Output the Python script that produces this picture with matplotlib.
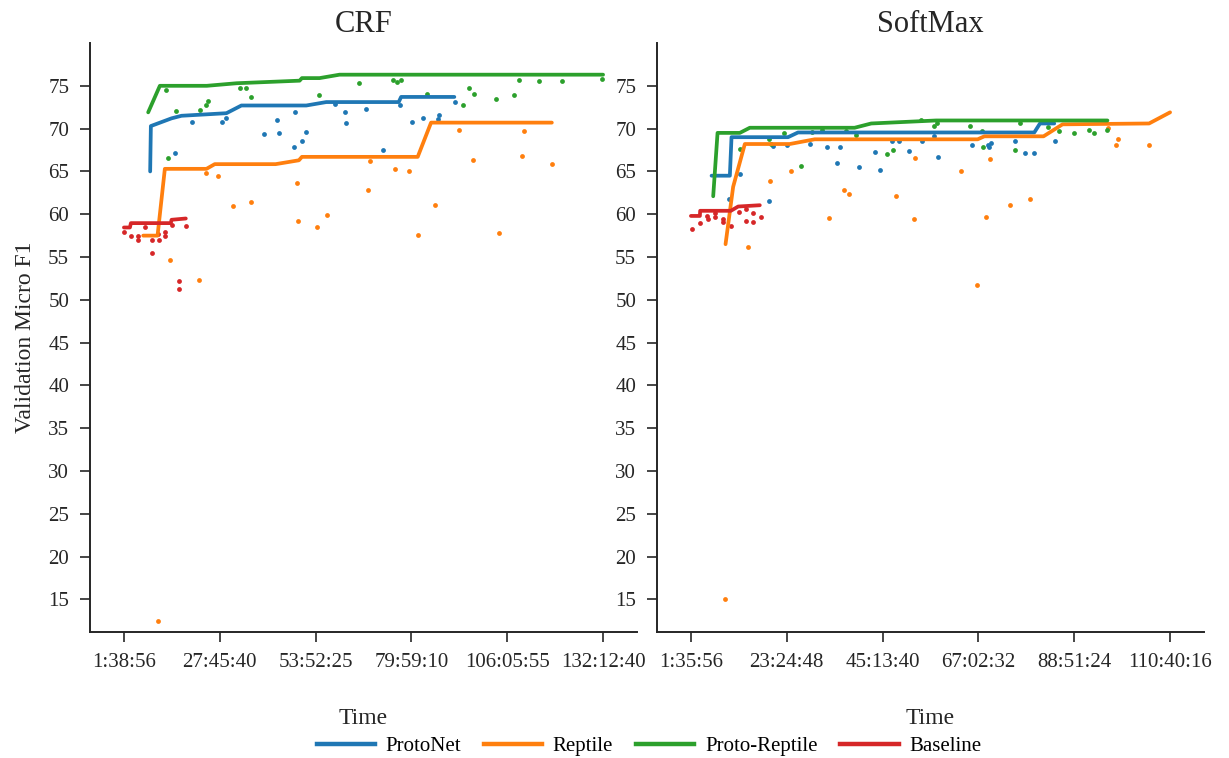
import numpy as np
import matplotlib
matplotlib.use("Agg")
import matplotlib.pyplot as plt
from matplotlib.lines import Line2D
from matplotlib.ticker import FuncFormatter

# time in hours, values = validation micro F1
methods = ["ProtoNet", "Reptile", "Proto-Reptile", "Baseline"]
colors = ["#1f77b4", "#ff7f0e", "#2ca02c", "#d62728"]

# ---------------- CRF ----------------
crf_protonet_line_x = [8.80, 8.99, 14.62, 17.34, 29.58, 33.66, 51.34, 56.78, 76.53, 77.18, 91.68]
crf_protonet_line_y = [65.0, 70.3, 71.2, 71.5, 71.8, 72.7, 72.7, 73.1, 73.1, 73.7, 73.7]
crf_protonet_pts_x = [15.52, 20.14, 28.49, 29.39, 39.92, 43.35, 43.81, 47.89, 48.16, 50.07, 51.34,
                      59.04, 61.84, 62.12, 67.74, 72.28, 76.91, 80.07, 83.16, 87.25, 87.41, 91.87]
crf_protonet_pts_y = [67.1, 70.8, 70.8, 71.2, 69.4, 71.0, 69.5, 67.9, 71.9, 68.5, 69.6,
                      72.9, 71.9, 70.6, 72.3, 67.5, 72.8, 70.8, 71.2, 71.1, 71.6, 73.1]

crf_reptile_line_x = [6.90, 10.81, 12.80, 24.14, 26.40, 42.99, 49.33, 50.15, 81.70, 85.34, 118.25]
crf_reptile_line_y = [57.5, 57.5, 65.3, 65.3, 65.85, 65.85, 66.3, 66.7, 66.7, 70.7, 70.7]
crf_reptile_pts_x = [10.81, 14.24, 22.13, 24.03, 27.22, 31.30, 36.19, 48.79, 49.06, 54.14, 56.87,
                     68.25, 68.64, 75.63, 79.25, 81.80, 86.51, 93.04, 96.85, 103.8, 110.18, 110.53, 118.34]
crf_reptile_pts_y = [12.5, 54.7, 52.3, 64.8, 64.5, 61.0, 61.4, 63.7, 59.2, 58.5, 59.9,
                     62.8, 66.2, 65.3, 65.0, 57.6, 61.1, 69.8, 66.3, 57.75, 66.8, 69.7, 65.85]

crf_proto_reptile_line_x = [8.26, 11.44, 24.23, 32.39, 49.52, 50.15, 54.96, 60.40, 132.211111]
crf_proto_reptile_line_y = [71.9, 75.0, 75.0, 75.3, 75.6, 75.9, 75.9, 76.3, 76.3]
crf_proto_reptile_pts_x = [13.07, 13.53, 15.71, 22.51, 23.95, 24.69, 33.2, 35.0, 36.2, 54.69, 65.8,
                           75.09, 76.18, 77.27, 84.15, 94.13, 95.76, 97.12, 102.9, 107.9, 109.4,
                           114.8, 120.97, 132.0]
crf_proto_reptile_pts_y = [74.5, 66.6, 72.1, 72.2, 72.8, 73.25, 74.7, 74.7, 73.75, 73.95, 75.3,
                           75.7, 75.4, 75.7, 74.1, 72.8, 74.8, 74.0, 73.5, 73.9, 75.7,
                           75.6, 75.6, 75.8]

crf_baseline_line_x = [1.648889, 3.28, 3.55, 14.43, 14.62, 18.51]
crf_baseline_line_y = [58.45, 58.45, 58.96, 58.96, 59.35, 59.5]
crf_baseline_pts_x = [1.73, 3.63, 5.46, 5.46, 7.36, 9.18, 9.18, 10.98, 11.09, 12.80, 12.80,
                      14.62, 16.53, 16.53, 18.43]
crf_baseline_pts_y = [57.9, 57.4, 57.4, 57.0, 58.45, 55.5, 57.0, 57.7, 57.0, 57.9, 57.4,
                      58.7, 52.2, 51.3, 58.6]

# ---------------- SoftMax ----------------
sm_protonet_line_x = [6.30, 10.46, 10.84, 23.71, 25.98, 79.76, 81.06, 84.3]
sm_protonet_line_y = [64.5, 64.5, 69.0, 69.0, 69.55, 69.55, 70.6, 70.6]
sm_protonet_pts_x = [10.3, 12.73, 19.32, 20.39, 23.57, 28.8, 32.66, 34.85, 35.61, 39.93, 43.56,
                     44.6, 47.33, 48.86, 51.29, 54.24, 57.04, 57.79, 65.67, 69.24, 69.53, 69.99,
                     75.44, 77.71, 79.69, 84.37]
sm_protonet_pts_y = [61.8, 64.7, 61.5, 68.0, 68.1, 68.2, 67.9, 66.0, 67.8, 65.5, 67.25,
                     65.2, 68.6, 68.6, 67.4, 68.5, 69.15, 66.7, 68.1, 68.1, 67.9, 68.3,
                     68.6, 67.2, 67.1, 68.5]

sm_reptile_line_x = [9.48, 11.21, 13.87, 24.09, 29.77, 66.87, 68.4, 81.87, 86.19, 105.89, 110.671111]
sm_reptile_line_y = [56.5, 63.2, 68.2, 68.2, 68.75, 68.75, 69.1, 69.1, 70.5, 70.6, 71.9]
sm_reptile_pts_x = [9.32, 14.62, 19.55, 24.39, 32.95, 36.52, 37.5, 48.18, 52.42, 52.72, 63.15,
                    66.81, 68.78, 69.69, 74.3, 78.85, 96.57, 98.32, 98.84, 105.89]
sm_reptile_pts_y = [15.0, 56.2, 63.9, 65.1, 59.6, 62.8, 62.4, 62.1, 59.4, 66.6, 65.0,
                    51.7, 59.7, 66.5, 61.1, 61.8, 70.1, 68.1, 68.8, 68.1]

sm_proto_reptile_line_x = [6.67, 7.66, 12.73, 15.0, 38.86, 42.65, 57.42, 96.41]
sm_proto_reptile_line_y = [62.1, 69.5, 69.5, 70.1, 70.1, 70.6, 70.95, 70.95]
sm_proto_reptile_pts_x = [12.73, 19.39, 19.93, 22.8, 26.66, 29.2, 31.43, 36.97, 39.09, 46.13, 47.56,
                          53.86, 56.88, 57.65, 65.15, 67.94, 68.17, 75.28, 76.57, 82.94, 85.37,
                          88.69, 92.19, 93.46, 96.41]
sm_proto_reptile_pts_y = [67.6, 68.8, 68.2, 69.5, 65.65, 69.6, 69.85, 69.75, 69.25, 67.0, 67.5,
                          70.95, 70.35, 70.6, 70.25, 69.7, 67.8, 67.45, 70.65, 70.2, 69.7,
                          69.5, 69.8, 69.45, 69.8]

sm_baseline_line_x = [1.598889, 3.64, 3.70, 10.69, 12.35, 17.28]
sm_baseline_line_y = [59.8, 59.8, 60.4, 60.4, 60.9, 61.05]
sm_baseline_pts_x = [1.9, 3.64, 5.3, 5.46, 7.05, 7.12, 8.87, 8.87, 10.62, 12.5, 14.09, 14.16,
                     15.75, 15.84, 17.5]
sm_baseline_pts_y = [58.3, 59.0, 59.8, 59.4, 60.1, 59.7, 59.5, 59.1, 58.65, 60.3, 59.2, 60.6,
                     59.1, 60.1, 59.65]

crf_lines = [(crf_protonet_line_x, crf_protonet_line_y), (crf_reptile_line_x, crf_reptile_line_y),
             (crf_proto_reptile_line_x, crf_proto_reptile_line_y), (crf_baseline_line_x, crf_baseline_line_y)]
crf_pts = [(crf_protonet_pts_x, crf_protonet_pts_y), (crf_reptile_pts_x, crf_reptile_pts_y),
           (crf_proto_reptile_pts_x, crf_proto_reptile_pts_y), (crf_baseline_pts_x, crf_baseline_pts_y)]
sm_lines = [(sm_protonet_line_x, sm_protonet_line_y), (sm_reptile_line_x, sm_reptile_line_y),
            (sm_proto_reptile_line_x, sm_proto_reptile_line_y), (sm_baseline_line_x, sm_baseline_line_y)]
sm_pts = [(sm_protonet_pts_x, sm_protonet_pts_y), (sm_reptile_pts_x, sm_reptile_pts_y),
          (sm_proto_reptile_pts_x, sm_proto_reptile_pts_y), (sm_baseline_pts_x, sm_baseline_pts_y)]


def hms(h, pos=None):
    s = int(np.floor(h * 3600 + 0.01))
    return f"{s // 3600}:{s % 3600 // 60:02d}:{s % 60:02d}"


plt.rcParams["font.family"] = ["Liberation Serif", "DejaVu Serif"]
ink = "#262626"

fig = plt.figure(figsize=(12.29, 7.58), dpi=100)
ax1 = fig.add_axes([90 / 1229, 1 - 632 / 758, 547 / 1229, 589 / 758])
ax2 = fig.add_axes([657 / 1229, 1 - 632 / 758, 547 / 1229, 589 / 758])

for ax, title, lines, pts in [(ax1, "CRF", crf_lines, crf_pts), (ax2, "SoftMax", sm_lines, sm_pts)]:
    for (px, py), c in zip(pts, colors):
        ax.scatter(px, py, s=12, color=c, linewidths=0, zorder=2)
    for (lx, ly), c in zip(lines, colors):
        ax.plot(lx, ly, color=c, lw=2.7, zorder=3, solid_capstyle="round")

    allx = np.concatenate([np.array(l[0]) for l in lines] + [np.array(p[0]) for p in pts])
    xmin, xmax = allx.min(), allx.max()
    r = xmax - xmin
    ax.set_xlim(xmin - 0.0708 * r, xmax + 0.0708 * r)
    ax.set_xticks(np.linspace(xmin, xmax, 6))
    ax.xaxis.set_major_formatter(FuncFormatter(hms))
    ax.set_ylim(11.2, 80.0)
    ax.set_yticks(np.arange(15, 80, 5))

    ax.set_title(title, fontsize=22, color=ink, pad=8)
    ax.set_xlabel("Time", fontsize=17, color=ink, labelpad=26)
    for s in ["top", "right"]:
        ax.spines[s].set_visible(False)
    for s in ["left", "bottom"]:
        ax.spines[s].set_linewidth(1.4)
        ax.spines[s].set_color(ink)
    ax.tick_params(axis="both", length=7, width=1.2, color=ink, labelcolor=ink,
                   labelsize=15, pad=8)

ax1.set_ylabel("Validation Micro F1", fontsize=17, color=ink, labelpad=9)

handles = [Line2D([0], [0], color=c, lw=3.2) for c in colors]
fig.legend(handles, methods, loc="center", bbox_to_anchor=(649 / 1229, 0.015), ncol=4,
           frameon=False, fontsize=15, handlelength=2.8, columnspacing=1.1, handletextpad=0.5)

fig.savefig("out.png", dpi=100)
